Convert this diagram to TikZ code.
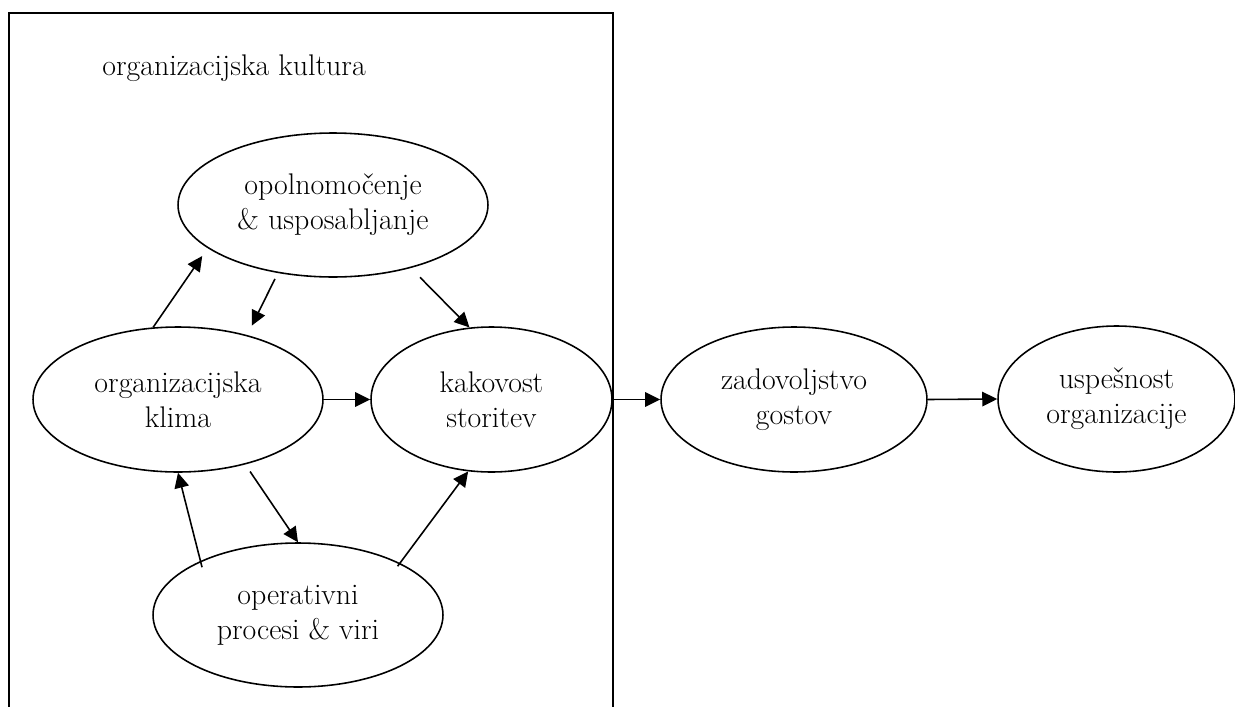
\documentclass[tikz,border=0pt]{standalone}
\usepackage{tikz}
\usetikzlibrary{shapes.geometric, arrows.meta}

\begin{document}
\begin{tikzpicture}[x=0.02cm, y=-0.02cm, >={Triangle[length=0.3cm, width=0.29cm]},
    bubble/.style={draw, ellipse, line width=0.9pt, inner sep=0pt, align=center, font=\fontsize{17}{20}\selectfont},
    link/.style={->, line width=0.9pt}]
    \useasboundingbox (0,0) rectangle (1235,707);

    % Culture frame
    \draw[line width=0.9pt] (9,707) -- (9,13) -- (613,13) -- (613,707);
    \node[anchor=base west, inner sep=0pt, font=\fontsize{17}{20}\selectfont] (kultura) at (102,75) {organizacijska kultura};

    % Factors inside the culture
    \node[bubble, minimum width=6.2cm, minimum height=2.88cm] (opol) at (333,205) {opolnomočenje\\\& usposabljanje};
    \node[bubble, minimum width=5.8cm, minimum height=2.9cm] (klima) at (178,399.5) {organizacijska\\klima};
    \node[bubble, minimum width=4.82cm, minimum height=2.9cm] (kakovost) at (491.5,399.5) {kakovost\\storitev};
    \node[bubble, minimum width=5.8cm, minimum height=2.88cm] (procesi) at (298,615) {operativni\\procesi \& viri};

    % Outcomes
    \node[bubble, minimum width=5.32cm, minimum height=2.9cm] (zadovoljstvo) at (794,399.5) {zadovoljstvo\\gostov};
    \node[bubble, minimum width=4.74cm, minimum height=2.92cm] (uspesnost) at (1116.5,399) {uspešnost\\organizacije};

    % Links
    \draw[link, shorten >=0.19cm] (klima.109) -- (opol.199);
    \draw[link, shorten <=0.13cm, shorten >=0.21cm] (opol.231) -- (klima.43);
    \draw[link, shorten <=0.26cm] (opol.321) -- (kakovost.107);
    \draw[link, shorten <=-0.13cm] (procesi.151) -- (klima.270);
    \draw[link, shorten <=0.17cm] (klima.316) -- (procesi.90);
    \draw[link, shorten <=-0.08cm] (procesi.27) -- (kakovost.252);
    \draw[link] (klima.east) -- (kakovost.west);
    \draw[link] (kakovost.east) -- (zadovoljstvo.west);
    \draw[link] (zadovoljstvo.east) -- (uspesnost.west);
\end{tikzpicture}
\end{document}
